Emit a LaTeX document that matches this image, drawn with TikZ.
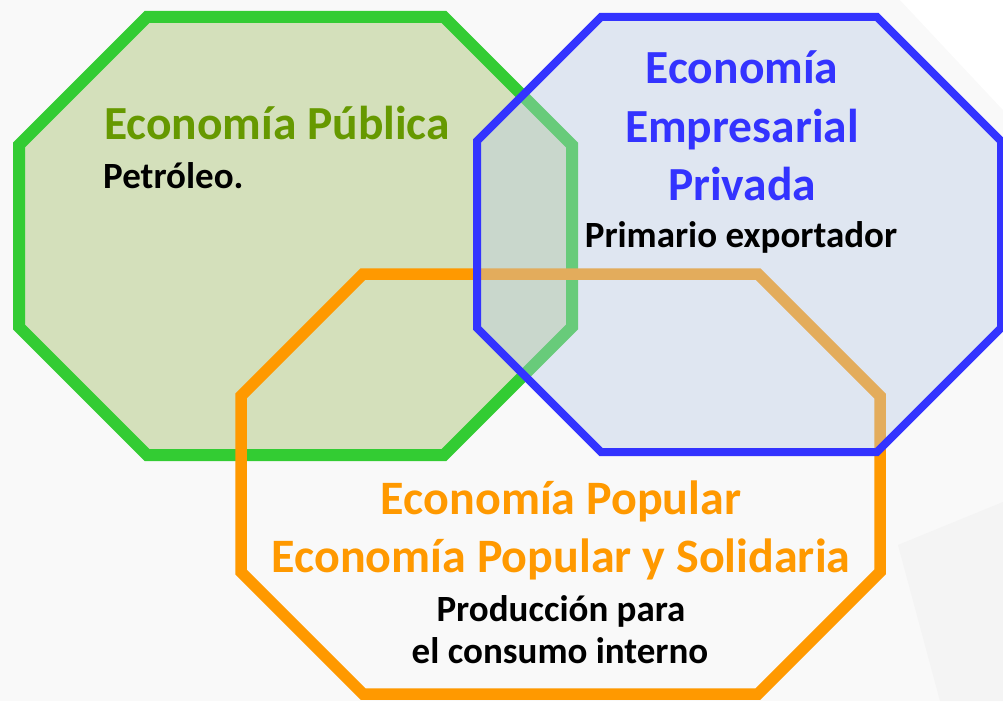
\documentclass[tikz,border=0pt]{standalone}
\usepackage{fontspec}
\setmainfont{Carlito}
\definecolor{bgc}{RGB}{249,249,249}
\definecolor{bgshade}{RGB}{244,244,244}
\definecolor{grline}{RGB}{51,204,51}
\definecolor{grfill}{RGB}{212,224,187}
\definecolor{grtext}{RGB}{102,153,0}
\definecolor{blline}{RGB}{51,51,255}
\definecolor{blfill}{RGB}{185,202,230}
\definecolor{orline}{RGB}{255,153,0}
\tikzset{
  octgreen/.style={draw=grline, line width=12pt, fill=grfill, line join=miter},
  octorange/.style={draw=orline, line width=11.5pt, line join=miter},
  octblue/.style={draw=blline, line width=8pt, fill=blfill, fill opacity=0.4, draw opacity=1, line join=miter},
  titlegreen/.style={font=\fontsize{47.5}{55}\selectfont\bfseries, text=grtext, inner sep=0pt, anchor=base},
  titleblue/.style={font=\fontsize{47.5}{55}\selectfont\bfseries, text=blline, inner sep=0pt, anchor=base},
  titleorange/.style={font=\fontsize{48}{55}\selectfont\bfseries, text=orline, inner sep=0pt, anchor=base},
  sub/.style={font=\fontsize{37}{44}\selectfont\bfseries, text=black, inner sep=0pt, anchor=base}
}
\begin{document}
\begin{tikzpicture}[x=1pt,y=-1pt]
\useasboundingbox (0,0) rectangle (1003,701);
\fill[bgc] (0,0) rectangle (1003,701);
\fill[white] (900,0) -- (1003,0) -- (1003,110) -- cycle;
\fill[bgshade] (898,545) -- (1003,502) -- (1003,701) -- (940,701) -- cycle;
% green octagon
\draw[octgreen] (147,17) -- (444,17) -- (572,145) -- (572,327) -- (444,455) -- (147,455) -- (19,327) -- (19,145) -- cycle;
% orange octagon
\draw[octorange] (363,274) -- (758,274) -- (880,396) -- (880,572) -- (758,694) -- (363,694) -- (241,572) -- (241,396) -- cycle;
% blue octagon
\draw[octblue] (601,17) -- (877,17) -- (1001,141) -- (1001,328) -- (877,452) -- (601,452) -- (477,328) -- (477,141) -- cycle;
% texts
\node[titlegreen] (tpub) at (277,139) {Economía Pública};
\node[sub, anchor=base west] (tpet) at (103,188) {Petróleo.};
\node[titleblue] (temp1) at (742,83) {Economía};
\node[titleblue] (temp2) at (742,142) {Empresarial};
\node[titleblue] (temp3) at (742,200) {Privada};
\node[sub] (tprim) at (741,247) {Primario exportador};
\node[titleorange] (tpop1) at (561,514) {Economía Popular};
\node[titleorange] (tpop2) at (561,572) {Economía Popular y Solidaria};
\node[sub] (tprod1) at (561,621) {Producción para};
\node[sub] (tprod2) at (560,663) {el consumo interno};
\end{tikzpicture}
\end{document}
